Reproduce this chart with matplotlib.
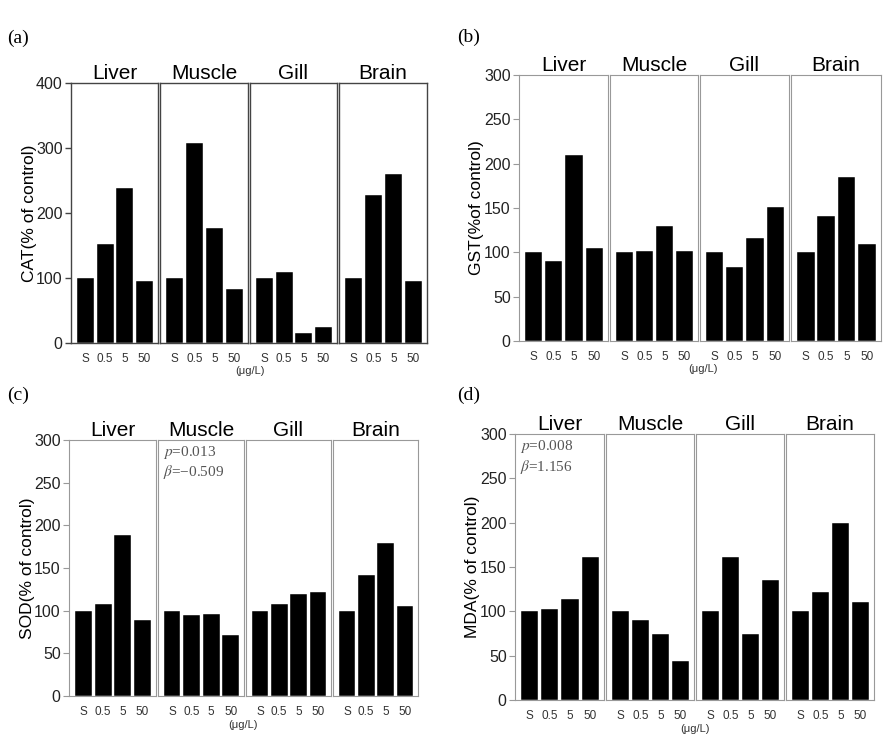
import numpy as np
import matplotlib
matplotlib.use('Agg')
import matplotlib.pyplot as plt

plt.rcParams['mathtext.fontset'] = 'stix'

# organs and exposure doses (ug/L), S = solvent control
organs = ['Liver', 'Muscle', 'Gill', 'Brain']
doses = ['S', '0.5', '5', '50']

# % of control, one row per organ (Liver, Muscle, Gill, Brain)
cat = [[100, 153, 238, 95],
       [100, 307, 177, 83],
       [100, 109, 15, 25],
       [100, 228, 260, 95]]
gst = [[100, 90, 210, 105],
       [100, 101, 130, 102],
       [100, 83, 116, 151],
       [100, 141, 185, 109]]
sod = [[100, 108, 189, 89],
       [100, 95, 96, 72],
       [100, 108, 119, 122],
       [100, 142, 179, 105]]
mda = [[100, 103, 114, 161],
       [100, 90, 75, 44],
       [100, 161, 74, 135],
       [100, 122, 200, 111]]

W, H = 887, 745
SANS = 'Liberation Sans'
SERIF = 'Liberation Serif'

fig = plt.figure(figsize=(W / 100, H / 100), dpi=100)


def px_axes(x0, x1, top, bottom):
    # axes from pixel coordinates (origin top-left)
    return fig.add_axes([x0 / W, 1 - bottom / H, (x1 - x0) / W, (bottom - top) / H])


def draw_panel(boxes, top, bottom, data, ylabel, ymax, ystep, frame, lw,
               note=None, note_box=0):
    axes = []
    for i, (x0, x1) in enumerate(boxes):
        ax = px_axes(x0, x1, top, bottom)
        ax.bar(np.arange(len(doses)), data[i], width=0.86, color='black',
               edgecolor='white', linewidth=0.3)
        ax.set_xlim(-0.72, 3.68)
        ax.set_ylim(0, ymax)
        for s in ax.spines.values():
            s.set_color(frame)
            s.set_linewidth(lw)
        ax.set_xticks(np.arange(len(doses)))
        ax.set_xticklabels(doses, fontsize=8.5, family=SANS)
        ax.tick_params(axis='x', length=0, pad=7, colors='#333333')
        ax.set_title(organs[i], fontsize=15, family=SANS, pad=0)
        if i == 0:
            ax.set_yticks(np.arange(0, ymax + 1, ystep))
            ax.tick_params(axis='y', direction='out', length=4, width=lw,
                           color=frame, labelsize=11.5, pad=2)
            for t in ax.get_yticklabels():
                t.set_family(SANS)
                t.set_color('#222222')
            ax.set_ylabel(ylabel, fontsize=12.5, family=SANS)
            ax.yaxis.set_label_coords(-0.39, 0.5)
        else:
            ax.set_yticks([])
        axes.append(ax)
    if note:
        axes[note_box].text(0.06, 0.985, note, transform=axes[note_box].transAxes,
                            va='top', ha='left', fontsize=11, family=SERIF,
                            color='#555555', linespacing=1.2)
    return axes


# (a) CAT
draw_panel([(71, 158), (160, 248), (250, 337), (339, 427)], 83, 343,
           cat, 'CAT(% of control)', 400, 100, '#444444', 1.0)
# (b) GST
draw_panel([(519, 608), (610, 698), (700, 789), (791, 881)], 75, 341,
           gst, 'GST(%of control)', 300, 50, '#999999', 0.8)
# (c) SOD
draw_panel([(69, 156), (158, 244), (246, 331), (333, 418)], 440, 696,
           sod, 'SOD(% of control)', 300, 50, '#999999', 0.8,
           note='$p$=0.013\n$\\beta$=\u22120.509', note_box=1)
# (d) MDA
draw_panel([(515, 604), (606, 694), (696, 784), (786, 874)], 434, 700,
           mda, 'MDA(% of control)', 300, 50, '#999999', 0.8,
           note='$p$=0.008\n$\\beta$=1.156', note_box=0)

# unit labels under the x ticks
for x, y in [(250, 371), (703, 369), (243, 725), (695, 729)]:
    fig.text(x / W, 1 - y / H, '(\u03bcg/L)', fontsize=8, family=SANS,
             ha='center', va='center', color='#333333')

# panel letters
for lab, x, y in [('(a)', 7, 38), ('(b)', 457, 37), ('(c)', 7, 395), ('(d)', 457, 395)]:
    fig.text(x / W, 1 - y / H, lab, fontsize=14, family=SERIF,
             ha='left', va='center')

fig.savefig('out.png', dpi=100)
